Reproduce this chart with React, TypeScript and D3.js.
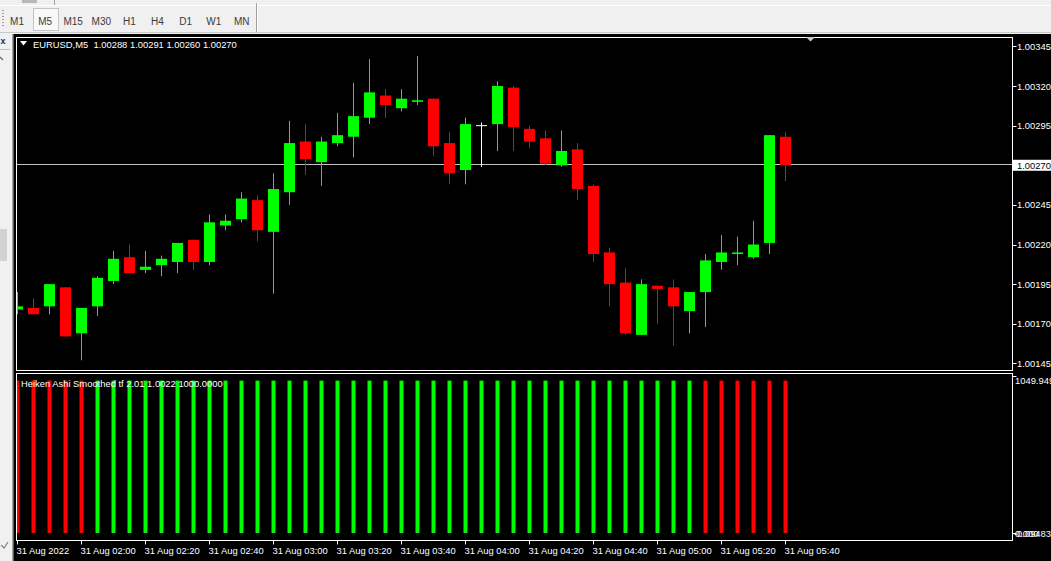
import React from 'react';
import * as d3 from 'd3';

const symbolTitle = 'EURUSD,M5  1.00288 1.00291 1.00260 1.00270';
const indicatorTitle = 'Heiken Ashi Smoothed tf 2.01 1.0022 1000.0000';
const tfButtons = ['M1', 'M5', 'M15', 'M30', 'H1', 'H4', 'D1', 'W1', 'MN'];
const activeTf = 'M5';

const opens = [
  1.00179, 1.00180, 1.00181, 1.00193, 1.00164, 1.00181, 1.00197, 1.00212, 1.00204, 1.00207,
  1.00209, 1.00223, 1.00209, 1.00232, 1.00236, 1.00248, 1.00228, 1.00253, 1.00285, 1.00272,
  1.00284, 1.00288, 1.00300, 1.00314, 1.00306, 1.00310, 1.00312, 1.00284, 1.00267, 1.00295,
  1.00296, 1.00319, 1.00293, 1.00287, 1.00270, 1.00280, 1.00257, 1.00215, 1.00196, 1.00163,
  1.00194, 1.00193, 1.00178, 1.00190, 1.00209, 1.00214, 1.00212, 1.00221, 1.00288,
];
const highs = [
  1.00190, 1.00186, 1.00195, 1.00193, 1.00180, 1.00200, 1.00216, 1.00220, 1.00216, 1.00213,
  1.00221, 1.00223, 1.00239, 1.00239, 1.00253, 1.00251, 1.00265, 1.00298, 1.00296, 1.00288,
  1.00303, 1.00322, 1.00337, 1.00318, 1.00318, 1.00339, 1.00312, 1.00291, 1.00300, 1.00297,
  1.00323, 1.00320, 1.00295, 1.00292, 1.00292, 1.00284, 1.00258, 1.00218, 1.00205, 1.00198,
  1.00194, 1.00198, 1.00190, 1.00214, 1.00226, 1.00225, 1.00235, 1.00289, 1.00291,
];
const lows = [
  1.00176, 1.00176, 1.00176, 1.00162, 1.00147, 1.00175, 1.00195, 1.00202, 1.00202, 1.00200,
  1.00202, 1.00204, 1.00207, 1.00229, 1.00234, 1.00222, 1.00189, 1.00245, 1.00264, 1.00257,
  1.00282, 1.00275, 1.00296, 1.00300, 1.00304, 1.00308, 1.00276, 1.00258, 1.00258, 1.00269,
  1.00279, 1.00279, 1.00281, 1.00270, 1.00269, 1.00248, 1.00209, 1.00181, 1.00163, 1.00163,
  1.00170, 1.00156, 1.00164, 1.00168, 1.00204, 1.00207, 1.00211, 1.00214, 1.00260,
];
const closes = [
  1.00181, 1.00176, 1.00195, 1.00162, 1.00180, 1.00199, 1.00211, 1.00202, 1.00206, 1.00211,
  1.00221, 1.00209, 1.00234, 1.00235, 1.00249, 1.00229, 1.00255, 1.00284, 1.00274, 1.00285,
  1.00289, 1.00301, 1.00316, 1.00308, 1.00312, 1.00311, 1.00282, 1.00265, 1.00296, 1.00295,
  1.00320, 1.00294, 1.00285, 1.00271, 1.00279, 1.00255, 1.00214, 1.00195, 1.00164, 1.00195,
  1.00192, 1.00181, 1.00190, 1.00210, 1.00215, 1.00215, 1.00220, 1.00289, 1.00270,
];

// Heiken Ashi Smoothed histogram: 1 = bull (green), 0 = bear (red)
const haTrend = [
  0, 0, 0, 0, 0, 1, 1, 1, 1, 1,
  1, 1, 1, 1, 1, 1, 1, 1, 1, 1,
  1, 1, 1, 1, 1, 1, 1, 1, 1, 1,
  1, 1, 1, 1, 1, 1, 1, 1, 1, 1,
  1, 1, 1, 0, 0, 0, 0, 0, 0,
];
const haValues = [
  1000, 1000, 1000, 1000, 1000, 1000, 1000, 1000, 1000, 1000,
  1000, 1000, 1000, 1000, 1000, 1000, 1000, 1000, 1000, 1000,
  1000, 1000, 1000, 1000, 1000, 1000, 1000, 1000, 1000, 1000,
  1000, 1000, 1000, 1000, 1000, 1000, 1000, 1000, 1000, 1000,
  1000, 1000, 1000, 1000, 1000, 1000, 1000, 1000, 1000,
];

const priceTicks = [1.00345, 1.0032, 1.00295, 1.0027, 1.00245, 1.0022, 1.00195, 1.0017, 1.00145];
const lastPrice = 1.0027;
const indMax = 1049.949;
const indMin = -0.09483;
const indZeroLabel = '0.000';

const timeTickIndex = [0, 4, 8, 12, 16, 20, 24, 28, 32, 36, 40, 44, 48];
const timeTickLabels = [
  '31 Aug 2022', '31 Aug 02:00', '31 Aug 02:20', '31 Aug 02:40', '31 Aug 03:00',
  '31 Aug 03:20', '31 Aug 03:40', '31 Aug 04:00', '31 Aug 04:20', '31 Aug 04:40',
  '31 Aug 05:00', '31 Aug 05:20', '31 Aug 05:40',
];

const W = 1051;
const H = 561;
const FONT = "Tahoma, 'Liberation Sans', Arial, sans-serif";
const BULL = '#00ff00';
const BEAR = '#ff0000';

export default function App() {
  const n = closes.length;
  const mainL = 16.5, mainR = 1012.5, mainT = 37.5, mainB = 370.5;
  const indT = 373.5, indB = 540.5;

  const x = d3.scaleLinear().domain([0, n - 1]).range([17.5, 785.5]);
  const y = d3.scaleLinear().domain([1.00145, 1.00345]).range([363.4, 46.4]);
  const yi = d3.scaleLinear().domain([indMin, indMax]).range([533, 373]);

  const bodyW = 11;
  const fs = 9.4;

  return (
    <svg width={W} height={H} style={{ position: 'absolute', left: 0, top: 0, display: 'block' }}
      fontFamily={FONT}>
      <defs>
        <clipPath id="mainClip">
          <rect x={mainL + 0.5} y={mainT + 0.5} width={mainR - mainL - 1} height={mainB - mainT - 1} />
        </clipPath>
        <clipPath id="indClip">
          <rect x={mainL + 0.5} y={indT + 0.5} width={mainR - mainL - 1} height={indB - indT - 1} />
        </clipPath>
      </defs>
      {/* window chrome */}
      <rect x={0} y={0} width={W} height={H} fill="#f0f0f0" />
      <line x1={0} x2={W} y1={5.5} y2={5.5} stroke="#ffffff" />
      <rect x={22} y={0} width={15} height={3} fill="#b8b8b8" />
      <line x1={54.5} x2={54.5} y1={0} y2={5} stroke="#a0a0a0" />
      <line x1={256.5} x2={256.5} y1={3} y2={32} stroke="#a0a0a0" />
      <line x1={257.5} x2={257.5} y1={3} y2={32} stroke="#ffffff" />
      {[10, 13, 16, 19, 22, 25].map((gy) => (
        <rect key={gy} x={2} y={gy} width={2} height={1} fill="#a0a0a0" />
      ))}
      <line x1={0} x2={W} y1={32.5} y2={32.5} stroke="#c8c8c8" />
      {tfButtons.map((b, i) => {
        const cx = 17 + i * 28.1;
        return (
          <g key={b}>
            {b === activeTf && (
              <rect x={33.5} y={8.5} width={25} height={22} fill="#f9f9f9" stroke="#c4c4c4" />
            )}
            <text x={cx} y={21} textAnchor="middle" dominantBaseline="central" fontSize={10}
              fill="#3c3c3c">{b}</text>
          </g>
        );
      })}
      {/* left strip */}
      <rect x={14} y={34} width={W - 14} height={H - 34} fill="#000000" />
      <line x1={12.5} x2={12.5} y1={34} y2={H} stroke="#a0a0a0" />
      <line x1={13.5} x2={13.5} y1={34} y2={H} stroke="#606060" />
      <text x={3} y={41} textAnchor="middle" dominantBaseline="central" fontSize={9}
        fontWeight="bold" fill="#303030">x</text>
      <line x1={0} x2={10} y1={49.5} y2={49.5} stroke="#c0c0c0" />
      <path d="M0,57 L3,60" stroke="#707070" strokeWidth={1.5} />
      <rect x={0} y={229} width={7} height={32} fill="#d2d2d2" />
      <path d="M1,545 L4,548 L8,542" stroke="#808080" fill="none" strokeWidth={1.2} />

      {/* main panel */}
      <rect x={mainL} y={mainT} width={mainR - mainL} height={mainB - mainT} fill="#000" stroke="#ffffff" />
      <g clipPath="url(#mainClip)">
        <line x1={mainL} x2={mainR} y1={Math.round(y(lastPrice)) - 0.5} y2={Math.round(y(lastPrice)) - 0.5}
          stroke="#c0c0c0" />
        {closes.map((c, i) => {
          const o = opens[i];
          const cx = x(i);
          const doji = o === c;
          const col = doji ? '#ffffff' : c > o ? BULL : BEAR;
          const top = y(Math.max(o, c));
          const bot = y(Math.min(o, c));
          return (
            <g key={i}>
              <rect x={cx - 0.5} y={y(highs[i])} width={1} height={y(lows[i]) - y(highs[i])} fill={col} />
              {doji ? (
                <rect x={cx - bodyW / 2} y={top - 0.5} width={bodyW} height={1} fill={col} />
              ) : (
                <rect x={cx - bodyW / 2} y={top} width={bodyW} height={Math.max(1, bot - top)} fill={col} />
              )}
            </g>
          );
        })}
      </g>
      {/* header */}
      <path d="M20,41 L27,41 L23.5,45.5 Z" fill="#ffffff" />
      <text x={33} y={44} dominantBaseline="central" fontSize={fs} fill="#ffffff"
        style={{ whiteSpace: 'pre' }}>{symbolTitle}</text>
      <path d="M806,37 L815,37 L810.5,41.5 Z" fill="#c8c8c8" />

      {/* price axis */}
      {priceTicks.map((p) => (
        <g key={p}>
          <line x1={mainR} x2={mainR + 4} y1={Math.round(y(p)) + 0.5} y2={Math.round(y(p)) + 0.5} stroke="#ffffff" />
          <text x={1017} y={y(p)} dominantBaseline="central" fontSize={fs} fill="#ffffff">{p.toFixed(5)}</text>
        </g>
      ))}
      <rect x={1013} y={y(lastPrice) - 5.5} width={38} height={11} fill="#ffffff" />
      <text x={1017} y={y(lastPrice)} dominantBaseline="central" fontSize={fs} fill="#000000">
        {lastPrice.toFixed(5)}
      </text>

      {/* indicator panel */}
      <rect x={mainL} y={indT} width={mainR - mainL} height={indB - indT} fill="#000" stroke="#ffffff" />
      <g clipPath="url(#indClip)">
        {haValues.map((v, i) => (
          <rect key={i} x={x(i) - 2} y={yi(v)} width={4} height={yi(0) - yi(v)}
            fill={haTrend[i] === 1 ? BULL : BEAR} />
        ))}
      </g>
      <text x={21} y={383} dominantBaseline="central" fontSize={fs} fill="#ffffff">{indicatorTitle}</text>
      <line x1={mainR} x2={mainR + 4} y1={yi(indMax) + 3.5} y2={yi(indMax) + 3.5} stroke="#ffffff" />
      <text x={1015} y={yi(indMax) + 7} dominantBaseline="central" fontSize={fs} fill="#ffffff">
        {indMax.toFixed(3)}
      </text>
      <line x1={mainR} x2={mainR + 4} y1={Math.round(yi(indMin)) + 0.5} y2={Math.round(yi(indMin)) + 0.5} stroke="#ffffff" />
      <text x={1015} y={yi(indMin)} dominantBaseline="central" fontSize={fs} fill="#ffffff">{indZeroLabel}</text>
      <text x={1014} y={yi(indMin)} dominantBaseline="central" fontSize={fs} fill="#ffffff">
        {indMin.toFixed(5)}
      </text>

      {/* time axis */}
      {timeTickIndex.map((ti, k) => (
        <g key={ti}>
          <line x1={Math.floor(x(ti)) + 0.5} x2={Math.floor(x(ti)) + 0.5} y1={indB} y2={indB + 4} stroke="#ffffff" />
          <text x={x(ti) - 1} y={550} dominantBaseline="central" fontSize={fs} fill="#ffffff">
            {timeTickLabels[k]}
          </text>
        </g>
      ))}
    </svg>
  );
}
